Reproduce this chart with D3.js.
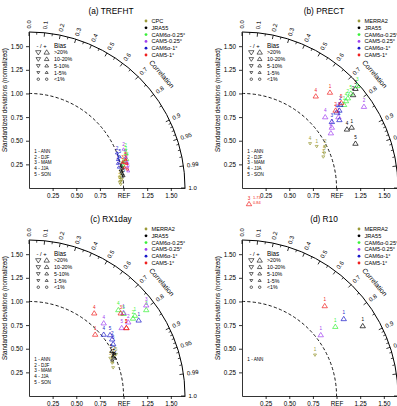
<!DOCTYPE html>
<html><head><meta charset="utf-8">
<script src="https://cdn.jsdelivr.net/npm/d3@7"></script>
<style>body{margin:0;background:#fff}svg{display:block}text{font-family:"Liberation Sans",Arial,Helvetica,sans-serif}</style>
</head><body><svg id="chart" width="397" height="406"></svg>
<script>
// ---------- data ----------
const seasonLabels = ["1 - ANN","2 - DJF","3 - MAM","4 - JJA","5 - SON"];
const legendObsA = ["CPC","JRA55","CAM6α-0.25°","CAM5-0.25°","CAM6α-1°","CAM5-1°"];
const legendObsB = ["MERRA2","JRA55","CAM6α-0.25°","CAM5-0.25°","CAM6α-1°","CAM5-1°"];
const datasetColors = ["#9a9a38","#000000","#38f038","#a040f0","#1818c8","#f02020"];
const sdTicks = [0.25,0.5,0.75,1.0,1.25,1.5];
const sdXLabels = ["0.25","0.50","0.75","REF","1.25","1.50"];
const sdYLabels = ["0.25","0.50","0.75","1.00","1.25","1.50"];
const corrMajor = [0,0.1,0.2,0.3,0.4,0.5,0.6,0.7,0.8,0.9,0.95,0.99,1.0];
const corrMajorLabels = ["0.0","0.1","0.2","0.3","0.4","0.5","0.6","0.7","0.8","0.9","0.95","0.99","1.0"];
const corrMinor = [0.05,0.15,0.25,0.35,0.45,0.55,0.65,0.75,0.85,0.91,0.92,0.93,0.94,0.96,0.97,0.98];
const biasClasses = [">20%","10-20%","5-10%","1-5%","<1%"];
const biasClassValues = [25,15,7,3,0.5];
// rows: [dataset index, season, std (normalized), correlation, bias %]
const trefht = [
 [0,1,0.9725,0.9974,-3],[0,2,0.9663,0.9935,-3],[0,3,0.9708,0.9992,-3],[0,4,0.9841,0.9958,-3],[0,5,0.9619,0.9980,-3],
 [1,1,1.0013,0.9887,3],[1,2,0.9884,0.9813,3],[1,3,1.0084,0.9917,3],[1,4,1.0142,0.9762,3],[1,5,0.9946,0.9853,3],
 [2,1,1.0911,0.9440,3],[2,2,1.0956,0.9310,3],[2,3,1.0481,0.9637,3],[2,4,1.0824,0.9608,3],[2,5,1.0284,0.9724,3],
 [3,1,1.0690,0.9541,3],[3,2,1.0808,0.9252,3],[3,3,1.0630,0.9783,3],[3,4,1.0648,0.9673,3],[3,5,1.0653,0.9856,3],
 [4,1,0.9867,0.9527,3],[4,2,1.0009,0.9292,3],[4,3,0.9751,0.9742,3],[4,4,0.9753,0.9638,3],[4,5,1.0151,0.9457,3],
 [5,1,1.0337,0.9771,3],[5,2,1.0623,0.9696,3],[5,3,1.0262,0.9648,3],[5,4,1.0591,0.9820,3],[5,5,1.0632,0.9594,3]
];
const prect = [
 [0,1,0.9043,0.8736,-3],[0,2,0.9839,0.8944,-3],[0,3,0.9211,0.9336,-3],[0,4,0.8598,0.8374,-3],[0,5,0.9454,0.9202,-3],
 [1,1,1.3248,0.8756,25],[1,2,1.5326,0.7667,25],[1,3,1.5945,0.7526,25],[1,4,1.2714,0.8730,25],[1,5,1.2888,0.9311,25],
 [2,1,1.3931,0.7752,25],[2,2,1.4687,0.7626,25],[2,3,1.6294,0.7488,25],[2,4,1.4340,0.7671,25],[2,5,1.5240,0.7546,25],
 [3,1,1.2661,0.8056,25],[3,2,1.5504,0.8320,25],[3,3,1.1455,0.8294,25],[3,4,1.1562,0.7611,25],[3,5,1.1045,0.8510,25],
 [4,1,1.2567,0.8196,25],[4,2,1.3624,0.7634,25],[4,3,1.1800,0.8051,25],[4,4,1.2806,0.7809,25],[4,5,1.3166,0.7823,25],
 [5,1,1.3730,0.6774,25],[5,2,1.2855,0.7701,25],[5,3,1.73,0.84,25],[5,4,1.2447,0.6267,25],[5,5,1.3829,0.7593,25]
];
const rx1day = [
 [0,1,0.9470,0.9292,-3],[0,2,0.9932,0.9062,-3],[0,3,0.9485,0.9067,-3],[0,4,0.9392,0.9476,-3],[0,5,1.0198,0.9021,-3],
 [1,1,0.9841,0.9044,3],[1,2,1.0062,0.8944,3],[1,3,0.9585,0.9181,3],[1,4,0.9940,0.9155,3],[1,5,0.9888,0.8798,3],
 [2,1,1.4060,0.7966,25],[2,2,1.3720,0.8017,25],[2,3,1.5381,0.8062,25],[2,4,1.3119,0.7203,25],[2,5,1.3255,0.7544,25],
 [3,1,1.3321,0.7507,25],[3,2,1.3080,0.8028,25],[3,3,1.5682,0.7907,25],[3,4,1.1032,0.7161,25],[3,5,1.2161,0.8059,25],
 [4,1,1.4091,0.8232,25],[4,2,1.0651,0.8262,25],[4,3,1.0462,0.8507,25],[4,4,1.0230,0.7722,25],[4,5,1.0726,0.7990,25],
 [5,1,0.9552,0.7328,25],[5,2,1.2567,0.8196,25],[5,3,1.3063,0.7425,25],[5,4,1.1143,0.6192,25],[5,5,1.2567,0.8196,25]
];
const r10 = [
 [0,1,0.8857,0.8717,-3],[1,1,1.4759,0.8652,25],[2,1,1.2294,0.8028,25],
 [3,1,1.0535,0.7907,25],[4,1,1.3498,0.7971,25],[5,1,1.2930,0.6767,25]
];
const sdMax = 1.65;

// ---------- layout ----------
const panels = [
 {title:"(a) TREFHT", ox:29, oy:188, legend:legendObsA, data:trefht, seasons:5},
 {title:"(b) PRECT", ox:242, oy:188, legend:legendObsB, data:prect, seasons:5},
 {title:"(c) RX1day", ox:29, oy:396, legend:legendObsB, data:rx1day, seasons:5},
 {title:"(d) R10", ox:242, oy:396, legend:legendObsB, data:r10, seasons:1}
];
const R = 156;
const svg = d3.select("#chart");
const rS = d3.scaleLinear().domain([0,sdMax]).range([0,R]);
const yS = d3.scaleLinear().domain([0,sdMax]).range([0,-R]);
const markerSize = d3.scaleThreshold().domain([1,5,10,20]).range([1.4,1.5,1.9,2.3,2.7]);

function markerPath(bias){
  const a = Math.abs(bias), s = markerSize(a);
  if(a < 1){ const p=d3.path(); p.arc(0,0,s*0.9,0,2*Math.PI); return p.toString(); }
  const h = s*1.6;
  return bias>0 ? `M0,${-h*0.6}L${s},${h*0.4}L${-s},${h*0.4}Z` : `M0,${h*0.6}L${s},${-h*0.4}L${-s},${-h*0.4}Z`;
}

panels.forEach(P=>{
  const g = svg.append("g").attr("transform",`translate(${P.ox},${P.oy})`);
  svg.append("text").attr("x",P.ox+82).attr("y",P.oy-174).attr("text-anchor","middle")
    .attr("font-size",8.3).text(P.title);
  const ay = g.append("g").call(d3.axisLeft(yS).tickValues(sdTicks).tickSize(3).tickSizeOuter(0).tickPadding(3)
     .tickFormat((d,i)=>sdYLabels[i]));
  const ax = g.append("g").call(d3.axisBottom(rS).tickValues(sdTicks).tickSize(3).tickSizeOuter(0).tickPadding(3)
     .tickFormat((d,i)=>sdXLabels[i]));
  [ay,ax].forEach(a=>{a.selectAll("text").attr("font-size",6.3).attr("font-family","Liberation Sans, Arial, sans-serif");
     a.selectAll("path,line").attr("stroke","#000").attr("stroke-width",0.8);});
  g.append("text").attr("transform",`translate(-22,${yS(0.93)}) rotate(-90)`).attr("text-anchor","middle")
    .attr("font-size",6.3).text("Standardized deviations (normalized)");
  const p = d3.path(); p.moveTo(0,-R); p.arc(0,0,R,-Math.PI/2,0);
  g.append("path").attr("d",p.toString()).attr("fill","none").attr("stroke","#000").attr("stroke-width",1);
  const p1 = d3.path(); const r1 = rS(1); p1.moveTo(0,-r1); p1.arc(0,0,r1,-Math.PI/2,0);
  g.append("path").attr("d",p1.toString()).attr("fill","none").attr("stroke","#000").attr("stroke-width",0.9)
    .attr("stroke-dasharray","3.2,2.2");
  corrMajor.forEach((c,i)=>{
    const t = Math.acos(c), cx=Math.cos(t), cy=-Math.sin(t);
    g.append("line").attr("x1",cx*R).attr("y1",cy*R).attr("x2",cx*(R-4)).attr("y2",cy*(R-4))
      .attr("stroke","#000").attr("stroke-width",0.8);
    g.append("text").attr("transform",`translate(${cx*(R+3.5)},${cy*(R+3.5)}) rotate(${-t*180/Math.PI})`)
      .attr("dominant-baseline","central").attr("font-size",6).text(corrMajorLabels[i]);
  });
  corrMinor.forEach(c=>{
    const t = Math.acos(c), cx=Math.cos(t), cy=-Math.sin(t);
    g.append("line").attr("x1",cx*R).attr("y1",cy*R).attr("x2",cx*(R-2.5)).attr("y2",cy*(R-2.5))
      .attr("stroke","#000").attr("stroke-width",0.7);
  });
  const ct = 40.6*Math.PI/180;
  g.append("text").attr("transform",`translate(${Math.cos(ct)*(R+19)},${-Math.sin(ct)*(R+19)}) rotate(${90-40.6})`)
    .attr("text-anchor","middle").attr("dominant-baseline","central").attr("font-size",7).text("Correlation");
  P.legend.forEach((name,i)=>{
    const y = -167 + i*6.8;
    g.append("circle").attr("cx",117).attr("cy",y).attr("r",1.4).attr("fill",datasetColors[i]);
    g.append("text").attr("x",122.5).attr("y",y).attr("dominant-baseline","central").attr("font-size",5.6).text(name);
  });
  const bl = g.append("g");
  bl.append("text").attr("x",7.5).attr("y",-142.3).attr("dominant-baseline","central").attr("font-size",5.8).text("-  /  +");
  bl.append("text").attr("x",25).attr("y",-142.3).attr("dominant-baseline","central").attr("font-size",6.3).text("Bias");
  biasClasses.forEach((lab,i)=>{
    const y = -135.6 + i*6.7, v = biasClassValues[i];
    bl.append("path").attr("d",markerPath(-v)).attr("transform",`translate(9.3,${y})`).attr("fill","none").attr("stroke","#000").attr("stroke-width",0.6);
    bl.append("path").attr("d",markerPath(v)).attr("transform",`translate(17.7,${y})`).attr("fill","none").attr("stroke","#000").attr("stroke-width",0.6);
    bl.append("text").attr("x",25).attr("y",y).attr("dominant-baseline","central").attr("font-size",5.3).text(lab);
  });
  seasonLabels.slice(0,P.seasons).forEach((s,i)=>{
    g.append("text").attr("x",5.3).attr("y",-36.3+i*5.6).attr("dominant-baseline","central").attr("font-size",4.6).text(s);
  });
  const inside = P.data.filter(d=>d[2] <= sdMax);
  const pts = g.append("g").selectAll("g").data(inside).join("g")
    .attr("transform",d=>`translate(${rS(d[2]*d[3])},${yS(d[2]*Math.sqrt(1-d[3]*d[3]))})`);
  pts.append("path").attr("d",d=>markerPath(d[4])).attr("fill","none")
    .attr("stroke",d=>datasetColors[d[0]]).attr("stroke-width",0.7);
  pts.append("text").attr("y",d=>-markerSize(Math.abs(d[4]))-2).attr("text-anchor","middle")
    .attr("font-size",4.6).attr("fill",d=>datasetColors[d[0]]).text(d=>d[1]);
  P.data.filter(d=>d[2] > sdMax).forEach((d,i)=>{
    const a = g.append("g").attr("transform",`translate(7,${15+i*8})`);
    a.append("text").attr("x",0).attr("y",-3.5).attr("text-anchor","middle").attr("font-size",4.6).attr("fill",datasetColors[d[0]]).text(d[1]);
    a.append("path").attr("d",markerPath(d[4])).attr("transform","translate(0,1)").attr("fill","none").attr("stroke",datasetColors[d[0]]).attr("stroke-width",0.7);
    a.append("text").attr("x",4).attr("y",-4.2).attr("font-size",4).attr("fill",datasetColors[d[0]]).text(d[2].toFixed(2));
    a.append("text").attr("x",4).attr("y",0.8).attr("font-size",4).attr("fill",datasetColors[d[0]]).text(d[3].toFixed(2));
  });
});
</script></body></html>
